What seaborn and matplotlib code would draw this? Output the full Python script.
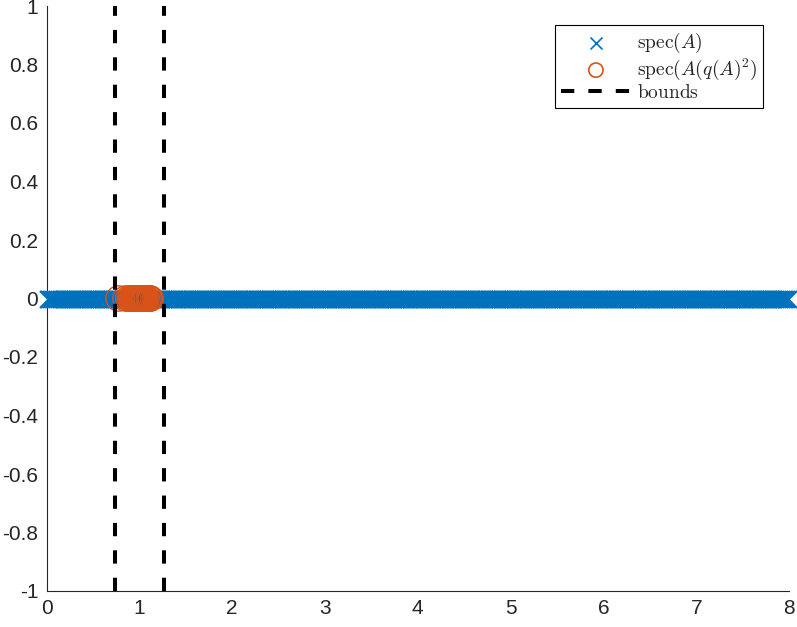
import matplotlib
matplotlib.use("Agg")
import matplotlib.pyplot as plt
import seaborn as sns
import pandas as pd

# ---- data ----
spec_A = [
    0.01, 0.03, 0.05, 0.07, 0.09, 0.11, 0.13, 0.15, 0.17, 0.19, 0.21, 0.23, 0.25, 0.27, 0.29, 0.31, 0.33, 0.35, 0.37, 0.39, 0.41, 0.43, 0.45, 0.47, 0.49,
    0.51, 0.53, 0.55, 0.57, 0.59, 0.61, 0.63, 0.65, 0.67, 0.69, 0.71, 0.73, 0.75, 0.77, 0.79, 0.81, 0.83, 0.85, 0.87, 0.89, 0.91, 0.93, 0.95, 0.97, 0.99,
    1.01, 1.03, 1.05, 1.07, 1.09, 1.11, 1.13, 1.15, 1.17, 1.19, 1.21, 1.23, 1.25, 1.27, 1.29, 1.31, 1.33, 1.35, 1.37, 1.39, 1.41, 1.43, 1.45, 1.47, 1.49,
    1.51, 1.53, 1.55, 1.57, 1.59, 1.61, 1.63, 1.65, 1.67, 1.69, 1.71, 1.73, 1.75, 1.77, 1.79, 1.81, 1.83, 1.85, 1.87, 1.89, 1.91, 1.93, 1.95, 1.97, 1.99,
    2.01, 2.03, 2.05, 2.07, 2.09, 2.11, 2.13, 2.15, 2.17, 2.19, 2.21, 2.23, 2.25, 2.27, 2.29, 2.31, 2.33, 2.35, 2.37, 2.39, 2.41, 2.43, 2.45, 2.47, 2.49,
    2.51, 2.53, 2.55, 2.57, 2.59, 2.61, 2.63, 2.65, 2.67, 2.69, 2.71, 2.73, 2.75, 2.77, 2.79, 2.81, 2.83, 2.85, 2.87, 2.89, 2.91, 2.93, 2.95, 2.97, 2.99,
    3.01, 3.03, 3.05, 3.07, 3.09, 3.11, 3.13, 3.15, 3.17, 3.19, 3.21, 3.23, 3.25, 3.27, 3.29, 3.31, 3.33, 3.35, 3.37, 3.39, 3.41, 3.43, 3.45, 3.47, 3.49,
    3.51, 3.53, 3.55, 3.57, 3.59, 3.61, 3.63, 3.65, 3.67, 3.69, 3.71, 3.73, 3.75, 3.77, 3.79, 3.81, 3.83, 3.85, 3.87, 3.89, 3.91, 3.93, 3.95, 3.97, 3.99,
    4.01, 4.03, 4.05, 4.07, 4.09, 4.11, 4.13, 4.15, 4.17, 4.19, 4.21, 4.23, 4.25, 4.27, 4.29, 4.31, 4.33, 4.35, 4.37, 4.39, 4.41, 4.43, 4.45, 4.47, 4.49,
    4.51, 4.53, 4.55, 4.57, 4.59, 4.61, 4.63, 4.65, 4.67, 4.69, 4.71, 4.73, 4.75, 4.77, 4.79, 4.81, 4.83, 4.85, 4.87, 4.89, 4.91, 4.93, 4.95, 4.97, 4.99,
    5.01, 5.03, 5.05, 5.07, 5.09, 5.11, 5.13, 5.15, 5.17, 5.19, 5.21, 5.23, 5.25, 5.27, 5.29, 5.31, 5.33, 5.35, 5.37, 5.39, 5.41, 5.43, 5.45, 5.47, 5.49,
    5.51, 5.53, 5.55, 5.57, 5.59, 5.61, 5.63, 5.65, 5.67, 5.69, 5.71, 5.73, 5.75, 5.77, 5.79, 5.81, 5.83, 5.85, 5.87, 5.89, 5.91, 5.93, 5.95, 5.97, 5.99,
    6.01, 6.03, 6.05, 6.07, 6.09, 6.11, 6.13, 6.15, 6.17, 6.19, 6.21, 6.23, 6.25, 6.27, 6.29, 6.31, 6.33, 6.35, 6.37, 6.39, 6.41, 6.43, 6.45, 6.47, 6.49,
    6.51, 6.53, 6.55, 6.57, 6.59, 6.61, 6.63, 6.65, 6.67, 6.69, 6.71, 6.73, 6.75, 6.77, 6.79, 6.81, 6.83, 6.85, 6.87, 6.89, 6.91, 6.93, 6.95, 6.97, 6.99,
    7.01, 7.03, 7.05, 7.07, 7.09, 7.11, 7.13, 7.15, 7.17, 7.19, 7.21, 7.23, 7.25, 7.27, 7.29, 7.31, 7.33, 7.35, 7.37, 7.39, 7.41, 7.43, 7.45, 7.47, 7.49,
    7.51, 7.53, 7.55, 7.57, 7.59, 7.61, 7.63, 7.65, 7.67, 7.69, 7.71, 7.73, 7.75, 7.77, 7.79, 7.81, 7.83, 7.85, 7.87, 7.89, 7.91, 7.93, 7.95, 7.97, 7.99,
]
spec_pre = [
    0.775, 0.85, 0.88, 0.90,
    0.915, 0.92, 0.925, 0.93, 0.935, 0.94, 0.945, 0.95, 0.955, 0.96, 0.965,
    0.97, 0.975, 0.98, 0.985, 0.99, 0.995, 1.00, 1.005, 1.01, 1.015, 1.02,
    1.025, 1.03, 1.035, 1.04, 1.045, 1.05, 1.055, 1.06, 1.065,
    1.08, 1.10, 1.115, 1.12,
]
bounds = [0.736, 1.268]

label_A = r"$\mathrm{spec}(A)$"
label_pre = r"$\mathrm{spec}(A(q(A)^2)$"
label_bounds = r"$\mathrm{bounds}$"

blue = "#0072BD"
orange = "#D95319"

sns.set_theme(style="white")
plt.rcParams["font.family"] = ["Liberation Sans", "DejaVu Sans"]
plt.rcParams["mathtext.fontset"] = "cm"

fig = plt.figure(figsize=(7.97, 6.27), dpi=100)
ax = fig.add_axes([46.6 / 797, 36 / 627, (789 - 46.6) / 797, (591 - 6) / 627])

df_A = pd.DataFrame({"x": spec_A, "y": [0.0] * len(spec_A)})
df_pre = pd.DataFrame({"x": spec_pre, "y": [0.0] * len(spec_pre)})

sns.scatterplot(data=df_A, x="x", y="y", marker="x", s=150, color=blue,
                linewidth=1.5, clip_on=False, label=label_A, ax=ax, zorder=3)
sns.scatterplot(data=df_pre, x="x", y="y", marker="o", s=330,
                facecolor="none", edgecolor=orange, linewidth=1.0,
                clip_on=False, label=label_pre, ax=ax, zorder=4)
for i, b in enumerate(bounds):
    ax.axvline(b, color="black", linewidth=2.9, linestyle=(0, (3.3, 3.5)),
               label=label_bounds if i == 0 else None, zorder=5)

ax.set_xlim(0, 8)
ax.set_ylim(-1, 1)
ax.set_xticks(range(0, 9))
ax.set_yticks([-1, -0.8, -0.6, -0.4, -0.2, 0, 0.2, 0.4, 0.6, 0.8, 1])
ax.set_yticklabels(["-1", "-0.8", "-0.6", "-0.4", "-0.2", "0", "0.2", "0.4",
                    "0.6", "0.8", "1"])
ax.set_xlabel("")
ax.set_ylabel("")
for s in ["top", "right"]:
    ax.spines[s].set_visible(False)
for s in ["left", "bottom"]:
    ax.spines[s].set_color("#262626")
    ax.spines[s].set_linewidth(0.8)
ax.tick_params(direction="in", length=5.5, width=0.8, color="#262626",
               labelsize=15, labelcolor="#262626")
ax.tick_params(axis="x", pad=5.5)
ax.tick_params(axis="y", pad=6)

leg = ax.legend(loc="upper right", bbox_to_anchor=(763 / 797, 1 - 25 / 627),
                bbox_transform=fig.transFigure, borderaxespad=0,
                fontsize=14, frameon=True, fancybox=False, edgecolor="black",
                framealpha=1, handlelength=3.6,
                handletextpad=0.3, labelspacing=0.1, borderpad=0.3)
leg.get_frame().set_linewidth(0.8)
hs = leg.legend_handles
hs[0].set_sizes([75])
hs[0].set_linewidth(1.2)
hs[1].set_sizes([105])
hs[1].set_linewidth(1.2)

fig.savefig("out.png", dpi=100)
